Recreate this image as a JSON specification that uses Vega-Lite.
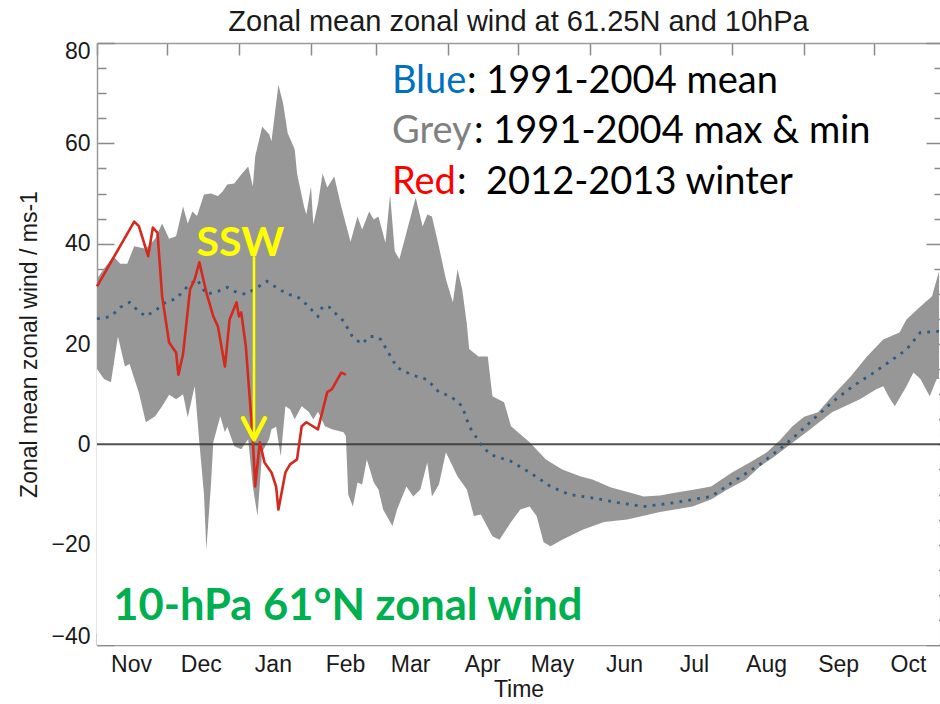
{
  "$schema": "https://vega.github.io/schema/vega-lite/v6.json",
  "width": 843,
  "height": 602,
  "autosize": {"type": "none"},
  "padding": {"left": 97, "top": 43, "right": 0, "bottom": 59},
  "background": "white",
  "title": {"text": "Zonal mean zonal wind at 61.25N and 10hPa", "font": "Liberation Sans", "fontSize": 29, "fontWeight": "normal", "color": "#1a1a1a", "anchor": "middle", "baseline": "alphabetic", "offset": 11, "dy": 31},
  "config": {
    "view": {"stroke": null},
    "axis": {"labelFont": "Liberation Sans", "titleFont": "Liberation Sans", "labelFontSize": 23, "titleFontSize": 23, "titleFontWeight": "normal", "labelColor": "#1a1a1a", "titleColor": "#1a1a1a", "domainColor": "#9a9a9a", "tickColor": "#8a8a8a", "domainWidth": 1.5, "tickWidth": 1.5, "grid": false, "zindex": 1}
  },
  "datasets": {
    "max": [
      {"date": "2012-11-01", "wind": 33}, {"date": "2012-11-04", "wind": 35}, {"date": "2012-11-08", "wind": 37.5}, {"date": "2012-11-11", "wind": 36}, {"date": "2012-11-14", "wind": 36}, {"date": "2012-11-17", "wind": 39.5}, {"date": "2012-11-22", "wind": 39}, {"date": "2012-11-26", "wind": 41}, {"date": "2012-11-29", "wind": 44}, {"date": "2012-12-02", "wind": 41}, {"date": "2012-12-05", "wind": 41.5}, {"date": "2012-12-08", "wind": 47.4}, {"date": "2012-12-10", "wind": 44}, {"date": "2012-12-12", "wind": 46.4}, {"date": "2012-12-14", "wind": 45.5}, {"date": "2012-12-17", "wind": 49.8}, {"date": "2012-12-20", "wind": 50}, {"date": "2012-12-23", "wind": 49.5}, {"date": "2012-12-25", "wind": 50.4}, {"date": "2012-12-27", "wind": 51.8}, {"date": "2012-12-30", "wind": 52}, {"date": "2013-01-02", "wind": 53.8}, {"date": "2013-01-05", "wind": 55.4}, {"date": "2013-01-07", "wind": 51.4}, {"date": "2013-01-08", "wind": 57.4}, {"date": "2013-01-11", "wind": 63.3}, {"date": "2013-01-14", "wind": 61.8}, {"date": "2013-01-15", "wind": 60.4}, {"date": "2013-01-18", "wind": 71.7}, {"date": "2013-01-20", "wind": 68}, {"date": "2013-01-22", "wind": 62}, {"date": "2013-01-25", "wind": 58.8}, {"date": "2013-01-26", "wind": 54}, {"date": "2013-01-29", "wind": 47.4}, {"date": "2013-01-30", "wind": 45.8}, {"date": "2013-02-01", "wind": 51.4}, {"date": "2013-02-02", "wind": 43.8}, {"date": "2013-02-04", "wind": 48}, {"date": "2013-02-06", "wind": 54}, {"date": "2013-02-08", "wind": 51.2}, {"date": "2013-02-11", "wind": 53.4}, {"date": "2013-02-14", "wind": 47.4}, {"date": "2013-02-18", "wind": 40.4}, {"date": "2013-02-21", "wind": 45.4}, {"date": "2013-02-23", "wind": 42.8}, {"date": "2013-02-26", "wind": 46.4}, {"date": "2013-02-28", "wind": 44.8}, {"date": "2013-03-02", "wind": 45.4}, {"date": "2013-03-05", "wind": 40.2}, {"date": "2013-03-07", "wind": 49.8}, {"date": "2013-03-09", "wind": 38.5}, {"date": "2013-03-11", "wind": 36.9}, {"date": "2013-03-13", "wind": 40.4}, {"date": "2013-03-18", "wind": 49.2}, {"date": "2013-03-21", "wind": 43.4}, {"date": "2013-03-23", "wind": 45.8}, {"date": "2013-03-25", "wind": 45.4}, {"date": "2013-03-28", "wind": 39.4}, {"date": "2013-03-31", "wind": 32.9}, {"date": "2013-04-03", "wind": 28.3}, {"date": "2013-04-05", "wind": 34.9}, {"date": "2013-04-07", "wind": 30.9}, {"date": "2013-04-09", "wind": 24}, {"date": "2013-04-10", "wind": 19}, {"date": "2013-04-14", "wind": 17.5}, {"date": "2013-04-18", "wind": 17.5}, {"date": "2013-04-20", "wind": 9.6}, {"date": "2013-04-25", "wind": 8.4}, {"date": "2013-04-28", "wind": 3.6}, {"date": "2013-05-02", "wind": 2}, {"date": "2013-05-06", "wind": 0.4}, {"date": "2013-05-13", "wind": -3}, {"date": "2013-05-20", "wind": -5}, {"date": "2013-05-28", "wind": -6.4}, {"date": "2013-06-02", "wind": -7}, {"date": "2013-06-10", "wind": -8.6}, {"date": "2013-06-18", "wind": -9.6}, {"date": "2013-06-24", "wind": -10.4}, {"date": "2013-07-01", "wind": -10.2}, {"date": "2013-07-08", "wind": -9.6}, {"date": "2013-07-16", "wind": -9}, {"date": "2013-07-23", "wind": -8.4}, {"date": "2013-08-01", "wind": -5.6}, {"date": "2013-08-09", "wind": -3.5}, {"date": "2013-08-16", "wind": -1.6}, {"date": "2013-08-22", "wind": 1}, {"date": "2013-08-27", "wind": 3.6}, {"date": "2013-09-01", "wind": 5.5}, {"date": "2013-09-07", "wind": 6.4}, {"date": "2013-09-13", "wind": 9.6}, {"date": "2013-09-21", "wind": 13.5}, {"date": "2013-09-28", "wind": 17.5}, {"date": "2013-10-05", "wind": 20.9}, {"date": "2013-10-12", "wind": 22.3}, {"date": "2013-10-15", "wind": 24.9}, {"date": "2013-10-21", "wind": 27.5}, {"date": "2013-10-26", "wind": 29.5}, {"date": "2013-10-29", "wind": 34.5}
    ],
    "min": [
      {"date": "2012-11-01", "wind": 15}, {"date": "2012-11-04", "wind": 13}, {"date": "2012-11-07", "wind": 12.4}, {"date": "2012-11-10", "wind": 21.5}, {"date": "2012-11-13", "wind": 15.5}, {"date": "2012-11-15", "wind": 16}, {"date": "2012-11-19", "wind": 10.3}, {"date": "2012-11-22", "wind": 4.4}, {"date": "2012-11-26", "wind": 5.6}, {"date": "2012-11-29", "wind": 7.6}, {"date": "2012-12-02", "wind": 9.9}, {"date": "2012-12-05", "wind": 9}, {"date": "2012-12-08", "wind": 10}, {"date": "2012-12-10", "wind": 5.4}, {"date": "2012-12-13", "wind": 11.6}, {"date": "2012-12-15", "wind": 0.4}, {"date": "2012-12-17", "wind": -10}, {"date": "2012-12-18", "wind": -21}, {"date": "2012-12-20", "wind": -8}, {"date": "2012-12-21", "wind": 0.4}, {"date": "2012-12-24", "wind": 5.6}, {"date": "2012-12-26", "wind": 2.4}, {"date": "2012-12-27", "wind": 3.5}, {"date": "2012-12-30", "wind": -0.4}, {"date": "2013-01-02", "wind": -1}, {"date": "2013-01-05", "wind": 1}, {"date": "2013-01-07", "wind": -8.4}, {"date": "2013-01-09", "wind": -14.3}, {"date": "2013-01-11", "wind": -1.6}, {"date": "2013-01-14", "wind": 1}, {"date": "2013-01-15", "wind": 3}, {"date": "2013-01-17", "wind": 3.5}, {"date": "2013-01-19", "wind": -2.4}, {"date": "2013-01-21", "wind": 7.6}, {"date": "2013-01-23", "wind": 7}, {"date": "2013-01-25", "wind": 5}, {"date": "2013-01-28", "wind": 7.6}, {"date": "2013-01-31", "wind": 6.5}, {"date": "2013-02-02", "wind": 5}, {"date": "2013-02-04", "wind": 6.5}, {"date": "2013-02-07", "wind": 3.6}, {"date": "2013-02-10", "wind": 3}, {"date": "2013-02-15", "wind": 2.4}, {"date": "2013-02-16", "wind": 1.6}, {"date": "2013-02-17", "wind": -10}, {"date": "2013-02-19", "wind": -12.4}, {"date": "2013-02-21", "wind": -7.6}, {"date": "2013-02-23", "wind": -8}, {"date": "2013-02-25", "wind": -3}, {"date": "2013-02-28", "wind": -7.6}, {"date": "2013-03-02", "wind": -9}, {"date": "2013-03-04", "wind": -13}, {"date": "2013-03-08", "wind": -16.3}, {"date": "2013-03-10", "wind": -13}, {"date": "2013-03-14", "wind": -8.4}, {"date": "2013-03-17", "wind": -10.4}, {"date": "2013-03-20", "wind": -9}, {"date": "2013-03-23", "wind": -3.6}, {"date": "2013-03-25", "wind": -10.4}, {"date": "2013-03-28", "wind": -8}, {"date": "2013-03-31", "wind": -1.6}, {"date": "2013-04-05", "wind": -6.4}, {"date": "2013-04-09", "wind": -9}, {"date": "2013-04-12", "wind": -14.3}, {"date": "2013-04-15", "wind": -14}, {"date": "2013-04-20", "wind": -18.3}, {"date": "2013-04-23", "wind": -19}, {"date": "2013-04-28", "wind": -15.5}, {"date": "2013-05-02", "wind": -13}, {"date": "2013-05-06", "wind": -12.4}, {"date": "2013-05-09", "wind": -14.3}, {"date": "2013-05-12", "wind": -19.5}, {"date": "2013-05-15", "wind": -20.3}, {"date": "2013-05-20", "wind": -19}, {"date": "2013-05-29", "wind": -17}, {"date": "2013-06-07", "wind": -15.5}, {"date": "2013-06-17", "wind": -15}, {"date": "2013-07-01", "wind": -13.5}, {"date": "2013-07-15", "wind": -12.4}, {"date": "2013-07-23", "wind": -11}, {"date": "2013-07-30", "wind": -9}, {"date": "2013-08-07", "wind": -7}, {"date": "2013-08-13", "wind": -4.4}, {"date": "2013-08-19", "wind": -2.5}, {"date": "2013-08-25", "wind": -0.4}, {"date": "2013-09-02", "wind": 2.4}, {"date": "2013-09-13", "wind": 6.4}, {"date": "2013-09-25", "wind": 9}, {"date": "2013-10-02", "wind": 11}, {"date": "2013-10-05", "wind": 11.6}, {"date": "2013-10-08", "wind": 9}, {"date": "2013-10-10", "wind": 7.6}, {"date": "2013-10-15", "wind": 11.6}, {"date": "2013-10-18", "wind": 14.3}, {"date": "2013-10-21", "wind": 13}, {"date": "2013-10-25", "wind": 9.6}, {"date": "2013-10-28", "wind": 13}, {"date": "2013-10-29", "wind": 13}
    ],
    "mean": [
      {"date": "2012-11-01", "wind": 25}, {"date": "2012-11-07", "wind": 25.5}, {"date": "2012-11-11", "wind": 27.3}, {"date": "2012-11-15", "wind": 28.3}, {"date": "2012-11-19", "wind": 26.5}, {"date": "2012-11-22", "wind": 25.5}, {"date": "2012-11-27", "wind": 27}, {"date": "2012-12-01", "wind": 28.5}, {"date": "2012-12-05", "wind": 29}, {"date": "2012-12-10", "wind": 31.5}, {"date": "2012-12-14", "wind": 32.9}, {"date": "2012-12-18", "wind": 29.9}, {"date": "2012-12-23", "wind": 30.5}, {"date": "2012-12-27", "wind": 31.3}, {"date": "2012-12-31", "wind": 30.3}, {"date": "2013-01-04", "wind": 29.9}, {"date": "2013-01-09", "wind": 31.3}, {"date": "2013-01-13", "wind": 32.5}, {"date": "2013-01-17", "wind": 31.3}, {"date": "2013-01-22", "wind": 29.9}, {"date": "2013-01-26", "wind": 29.5}, {"date": "2013-01-30", "wind": 27.9}, {"date": "2013-02-04", "wind": 25.5}, {"date": "2013-02-06", "wind": 27.5}, {"date": "2013-02-09", "wind": 27.3}, {"date": "2013-02-11", "wind": 26.3}, {"date": "2013-02-15", "wind": 24.6}, {"date": "2013-02-19", "wind": 21.3}, {"date": "2013-02-23", "wind": 20}, {"date": "2013-02-26", "wind": 21.5}, {"date": "2013-03-01", "wind": 21.5}, {"date": "2013-03-03", "wind": 20.9}, {"date": "2013-03-06", "wind": 18.5}, {"date": "2013-03-10", "wind": 15.3}, {"date": "2013-03-16", "wind": 13.9}, {"date": "2013-03-23", "wind": 12.9}, {"date": "2013-03-28", "wind": 10.4}, {"date": "2013-04-02", "wind": 9.6}, {"date": "2013-04-07", "wind": 7.6}, {"date": "2013-04-10", "wind": 3.6}, {"date": "2013-04-15", "wind": 0}, {"date": "2013-04-19", "wind": -2}, {"date": "2013-04-28", "wind": -3.4}, {"date": "2013-05-06", "wind": -5.6}, {"date": "2013-05-15", "wind": -8.4}, {"date": "2013-05-23", "wind": -10}, {"date": "2013-06-01", "wind": -10.6}, {"date": "2013-06-13", "wind": -11.6}, {"date": "2013-06-24", "wind": -12.4}, {"date": "2013-07-08", "wind": -11.6}, {"date": "2013-07-23", "wind": -10.4}, {"date": "2013-08-03", "wind": -7}, {"date": "2013-08-13", "wind": -4}, {"date": "2013-08-23", "wind": -0.4}, {"date": "2013-08-29", "wind": 2}, {"date": "2013-09-05", "wind": 5}, {"date": "2013-09-13", "wind": 8.4}, {"date": "2013-09-22", "wind": 11.6}, {"date": "2013-10-01", "wind": 14.3}, {"date": "2013-10-09", "wind": 16.9}, {"date": "2013-10-15", "wind": 18.9}, {"date": "2013-10-21", "wind": 22.3}, {"date": "2013-10-28", "wind": 22.5}, {"date": "2013-10-29", "wind": 22.5}
    ],
    "red": [
      {"date": "2012-11-01", "wind": 31.5}, {"date": "2012-11-17", "wind": 44.4}, {"date": "2012-11-19", "wind": 43.5}, {"date": "2012-11-23", "wind": 37.5}, {"date": "2012-11-25", "wind": 43.2}, {"date": "2012-11-27", "wind": 42.2}, {"date": "2012-11-29", "wind": 29.5}, {"date": "2012-12-02", "wind": 20.3}, {"date": "2012-12-05", "wind": 18.3}, {"date": "2012-12-06", "wind": 13.9}, {"date": "2012-12-08", "wind": 18}, {"date": "2012-12-11", "wind": 30.9}, {"date": "2012-12-13", "wind": 32.9}, {"date": "2012-12-15", "wind": 36.3}, {"date": "2012-12-18", "wind": 30.3}, {"date": "2012-12-21", "wind": 25.5}, {"date": "2012-12-23", "wind": 23.5}, {"date": "2012-12-26", "wind": 15.5}, {"date": "2012-12-28", "wind": 24.9}, {"date": "2012-12-31", "wind": 28.3}, {"date": "2013-01-01", "wind": 25.5}, {"date": "2013-01-02", "wind": 26.3}, {"date": "2013-01-04", "wind": 19.5}, {"date": "2013-01-07", "wind": 1}, {"date": "2013-01-08", "wind": -8.4}, {"date": "2013-01-10", "wind": 0.4}, {"date": "2013-01-12", "wind": -3.6}, {"date": "2013-01-15", "wind": -5.6}, {"date": "2013-01-17", "wind": -8.4}, {"date": "2013-01-18", "wind": -13}, {"date": "2013-01-21", "wind": -5.6}, {"date": "2013-01-23", "wind": -4}, {"date": "2013-01-26", "wind": -3}, {"date": "2013-01-28", "wind": 3.6}, {"date": "2013-01-30", "wind": 4.4}, {"date": "2013-02-04", "wind": 3}, {"date": "2013-02-08", "wind": 10.4}, {"date": "2013-02-10", "wind": 11}, {"date": "2013-02-14", "wind": 14.3}, {"date": "2013-02-16", "wind": 13.9}
    ],
    "zero": [{"wind": 0}],
    "shaft": [{"date": "2013-01-07T12:00:00Z", "top": 37.5, "tip": 1.0}],
    "head": [
      {"date": "2013-01-02T19:00:00Z", "wind": 5.2},
      {"date": "2013-01-07T12:00:00Z", "wind": 1.0},
      {"date": "2013-01-12T05:00:00Z", "wind": 5.2}
    ],
    "ssw": [{"date": "2013-01-01T16:00:00Z", "wind": 37.6, "text": "SSW"}],
    "green": [{"date": "2012-11-08T00:00:00Z", "wind": -35, "text": "10-hPa 61°N zonal wind"}],
    "words": [
      {"date": "2013-03-07T19:00:00Z", "wind": 70, "text": "Blue", "word": "Blue"},
      {"date": "2013-03-07T19:00:00Z", "wind": 60, "text": "Grey", "word": "Grey"},
      {"date": "2013-03-07T19:00:00Z", "wind": 50, "text": "Red", "word": "Red"}
    ],
    "rest": [
      {"date": "2013-04-09T02:00:00Z", "wind": 70, "text": ": 1991-2004 mean"},
      {"date": "2013-04-12T02:00:00Z", "wind": 60, "text": ": 1991-2004 max & min"},
      {"date": "2013-04-04T19:00:00Z", "wind": 50, "text": ":\u00a0 2012-2013 winter"}
    ]
  },
  "resolve": {"axis": {"x": "independent", "y": "independent"}},
  "layer": [
    {
      "data": {"name": "max"},
      "mark": {"type": "area", "color": "#979797"},
      "encoding": {
        "x": {"field": "date", "type": "temporal",
          "scale": {"type": "utc", "domain": [{"year": 2012, "month": 11, "date": 1, "utc": true}, {"year": 2013, "month": 10, "date": 29, "hours": 10, "utc": true}]},
          "axis": {"orient": "bottom", "values": [{"year": 2012, "month": 11, "date": 1, "utc": true}, {"year": 2012, "month": 12, "date": 1, "utc": true}, {"year": 2013, "month": 1, "date": 1, "utc": true}, {"year": 2013, "month": 2, "date": 1, "utc": true}, {"year": 2013, "month": 3, "date": 1, "utc": true}, {"year": 2013, "month": 4, "date": 1, "utc": true}, {"year": 2013, "month": 5, "date": 1, "utc": true}, {"year": 2013, "month": 6, "date": 1, "utc": true}, {"year": 2013, "month": 7, "date": 1, "utc": true}, {"year": 2013, "month": 8, "date": 1, "utc": true}, {"year": 2013, "month": 9, "date": 1, "utc": true}, {"year": 2013, "month": 10, "date": 1, "utc": true}],
            "format": "%b", "labelOffset": 34, "labelPadding": 20, "tickSize": -12, "labelFlush": false, "labelOverlap": false, "title": "Time", "titlePadding": 2}},
        "y": {"field": "wind", "type": "quantitative",
          "scale": {"domain": [-40, 80], "nice": false, "zero": false},
          "axis": {"orient": "left", "values": [-40, -35, -30, -25, -20, -15, -10, -5, 0, 5, 10, 15, 20, 25, 30, 35, 40, 45, 50, 55, 60, 65, 70, 75, 80],
            "tickSize": {"condition": {"test": "datum.value % 20 === 0", "value": -17}, "value": -9},
            "labelExpr": "datum.value % 20 === 0 ? datum.label : ''", "labelPadding": 24, "labelFlush": true, "labelFlushOffset": 3, "labelOverlap": false,
            "title": "Zonal mean zonal wind / ms-1", "titlePadding": 9}},
        "y2": {"datum": -40}
      }
    },
    {
      "data": {"name": "min"},
      "mark": {"type": "area", "color": "#ffffff"},
      "encoding": {
        "x": {"field": "date", "type": "temporal",
          "scale": {"type": "utc", "domain": [{"year": 2012, "month": 11, "date": 1, "utc": true}, {"year": 2013, "month": 10, "date": 29, "hours": 10, "utc": true}]},
          "axis": {"orient": "top", "values": [{"year": 2012, "month": 11, "date": 1, "utc": true}, {"year": 2012, "month": 12, "date": 1, "utc": true}, {"year": 2013, "month": 1, "date": 1, "utc": true}, {"year": 2013, "month": 2, "date": 1, "utc": true}, {"year": 2013, "month": 3, "date": 1, "utc": true}, {"year": 2013, "month": 4, "date": 1, "utc": true}, {"year": 2013, "month": 5, "date": 1, "utc": true}, {"year": 2013, "month": 6, "date": 1, "utc": true}, {"year": 2013, "month": 7, "date": 1, "utc": true}, {"year": 2013, "month": 8, "date": 1, "utc": true}, {"year": 2013, "month": 9, "date": 1, "utc": true}, {"year": 2013, "month": 10, "date": 1, "utc": true}],
            "tickSize": -12, "labels": false, "title": null}},
        "y": {"field": "wind", "type": "quantitative",
          "scale": {"domain": [-40, 80], "nice": false, "zero": false},
          "axis": {"orient": "right", "values": [-40, -35, -30, -25, -20, -15, -10, -5, 0, 5, 10, 15, 20, 25, 30, 35, 40, 45, 50, 55, 60, 65, 70, 75, 80],
            "tickSize": {"condition": {"test": "datum.value % 20 === 0", "value": -14}, "value": -6},
            "labels": false, "domain": false, "title": null}},
        "y2": {"datum": -40}
      }
    },
    {
      "data": {"name": "zero"},
      "mark": {"type": "rule", "color": "#333333", "strokeWidth": 2, "opacity": 0.85},
      "encoding": {
        "y": {"field": "wind", "type": "quantitative", "scale": {"domain": [-40, 80], "nice": false, "zero": false}, "axis": null}
      }
    },
    {
      "data": {"name": "mean"},
      "mark": {"type": "line", "color": "#2b5b86", "strokeWidth": 2.8, "strokeDash": [2.8, 6.2], "strokeCap": "butt"},
      "encoding": {
        "x": {"field": "date", "type": "temporal", "scale": {"type": "utc", "domain": [{"year": 2012, "month": 11, "date": 1, "utc": true}, {"year": 2013, "month": 10, "date": 29, "hours": 10, "utc": true}]}, "axis": null},
        "y": {"field": "wind", "type": "quantitative", "scale": {"domain": [-40, 80], "nice": false, "zero": false}, "axis": null}
      }
    },
    {
      "data": {"name": "red"},
      "mark": {"type": "line", "color": "#d42a1e", "strokeWidth": 2.6, "strokeJoin": "round"},
      "encoding": {
        "x": {"field": "date", "type": "temporal", "scale": {"type": "utc", "domain": [{"year": 2012, "month": 11, "date": 1, "utc": true}, {"year": 2013, "month": 10, "date": 29, "hours": 10, "utc": true}]}, "axis": null},
        "y": {"field": "wind", "type": "quantitative", "scale": {"domain": [-40, 80], "nice": false, "zero": false}, "axis": null}
      }
    },
    {
      "data": {"name": "shaft"},
      "mark": {"type": "rule", "color": "#ffff00", "strokeWidth": 2.6},
      "encoding": {
        "x": {"field": "date", "type": "temporal", "scale": {"type": "utc", "domain": [{"year": 2012, "month": 11, "date": 1, "utc": true}, {"year": 2013, "month": 10, "date": 29, "hours": 10, "utc": true}]}, "axis": null},
        "y": {"field": "top", "type": "quantitative", "scale": {"domain": [-40, 80], "nice": false, "zero": false}, "axis": null},
        "y2": {"field": "tip"}
      }
    },
    {
      "data": {"name": "head"},
      "mark": {"type": "line", "color": "#ffff00", "strokeWidth": 4.5, "strokeCap": "round", "strokeJoin": "round"},
      "encoding": {
        "x": {"field": "date", "type": "temporal", "scale": {"type": "utc", "domain": [{"year": 2012, "month": 11, "date": 1, "utc": true}, {"year": 2013, "month": 10, "date": 29, "hours": 10, "utc": true}]}, "axis": null},
        "y": {"field": "wind", "type": "quantitative", "scale": {"domain": [-40, 80], "nice": false, "zero": false}, "axis": null}
      }
    },
    {
      "data": {"name": "ssw"},
      "mark": {"type": "text", "font": "Lato", "fontWeight": "bold", "fontSize": 41, "color": "#ffff00", "align": "center", "baseline": "alphabetic"},
      "encoding": {
        "x": {"field": "date", "type": "temporal", "scale": {"type": "utc", "domain": [{"year": 2012, "month": 11, "date": 1, "utc": true}, {"year": 2013, "month": 10, "date": 29, "hours": 10, "utc": true}]}, "axis": null},
        "y": {"field": "wind", "type": "quantitative", "scale": {"domain": [-40, 80], "nice": false, "zero": false}, "axis": null},
        "text": {"field": "text"}
      }
    },
    {
      "data": {"name": "green"},
      "mark": {"type": "text", "font": "Lato", "fontWeight": "bold", "fontSize": 43.5, "color": "#00b050", "align": "left", "baseline": "alphabetic"},
      "encoding": {
        "x": {"field": "date", "type": "temporal", "scale": {"type": "utc", "domain": [{"year": 2012, "month": 11, "date": 1, "utc": true}, {"year": 2013, "month": 10, "date": 29, "hours": 10, "utc": true}]}, "axis": null},
        "y": {"field": "wind", "type": "quantitative", "scale": {"domain": [-40, 80], "nice": false, "zero": false}, "axis": null},
        "text": {"field": "text"}
      }
    },
    {
      "data": {"name": "words"},
      "mark": {"type": "text", "font": "Lato", "fontSize": 38, "align": "left", "baseline": "alphabetic"},
      "encoding": {
        "x": {"field": "date", "type": "temporal", "scale": {"type": "utc", "domain": [{"year": 2012, "month": 11, "date": 1, "utc": true}, {"year": 2013, "month": 10, "date": 29, "hours": 10, "utc": true}]}, "axis": null},
        "y": {"field": "wind", "type": "quantitative", "scale": {"domain": [-40, 80], "nice": false, "zero": false}, "axis": null},
        "text": {"field": "text"},
        "color": {"field": "word", "type": "nominal", "scale": {"domain": ["Blue", "Grey", "Red"], "range": ["#0070c0", "#808080", "#ff0000"]}, "legend": null}
      }
    },
    {
      "data": {"name": "rest"},
      "mark": {"type": "text", "font": "Lato", "fontSize": 38, "align": "left", "baseline": "alphabetic", "color": "#000000"},
      "encoding": {
        "x": {"field": "date", "type": "temporal", "scale": {"type": "utc", "domain": [{"year": 2012, "month": 11, "date": 1, "utc": true}, {"year": 2013, "month": 10, "date": 29, "hours": 10, "utc": true}]}, "axis": null},
        "y": {"field": "wind", "type": "quantitative", "scale": {"domain": [-40, 80], "nice": false, "zero": false}, "axis": null},
        "text": {"field": "text"}
      }
    }
  ]
}
